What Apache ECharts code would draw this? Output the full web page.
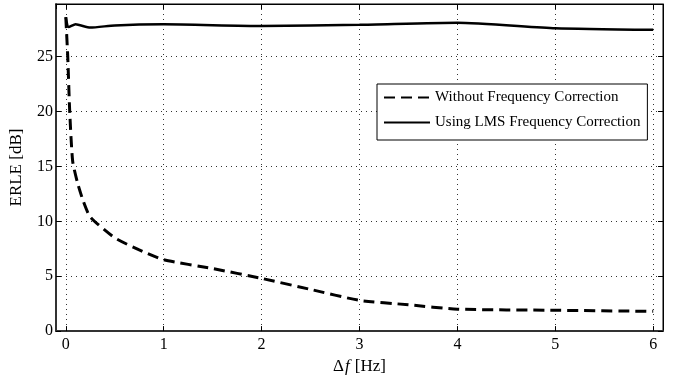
<!DOCTYPE html>
<html>
<head>
<meta charset="utf-8">
<script src="https://cdn.jsdelivr.net/npm/echarts@6/dist/echarts.min.js"></script>
<style>
  html, body { margin: 0; padding: 0; background: #fff; }
  #chart { width: 680px; height: 380px; }
</style>
</head>
<body>
<div id="chart"></div>
<script>
// frequency offset (Hz) and ERLE (dB)
const dfWithout = [0, 0.02, 0.04, 0.07, 0.12, 0.18, 0.25, 0.5, 0.75, 1, 1.5, 2, 2.5, 3, 3.5, 4, 5, 6]
const erleWithout = [28.6, 25, 20, 15.5, 13.5, 11.8, 10.4, 8.5, 7.4, 6.5, 5.7, 4.8, 3.8, 2.8, 2.4, 2.0, 1.9, 1.8]

const dfLms = [0, 0.03, 0.1, 0.25, 0.5, 1, 2, 3, 4, 5, 6]
const erleLms = [28.6, 27.7, 27.95, 27.65, 27.85, 27.95, 27.8, 27.9, 28.1, 27.6, 27.45]

const seriesNames = ['Without Frequency Correction', 'Using LMS Frequency Correction']

const FONT = 'Liberation Serif'

const chart = echarts.init(document.getElementById('chart'))

const pairs = (xs, ys) => xs.map((x, i) => [x, ys[i]])

const gridLine = {
  show: true,
  lineStyle: { color: '#333', width: 1, type: [1, 4] }
}

const option = {
  animation: false,
  backgroundColor: '#fff',
  textStyle: { fontFamily: FONT },
  grid: {
    left: 55,
    right: 17,
    top: 4,
    bottom: 47,
    show: true,
    borderColor: '#000',
    borderWidth: 1
  },
  legend: {
    data: seriesNames,
    orient: 'vertical',
    left: 377,
    top: 84,
    itemWidth: 46,
    itemHeight: 14,
    itemGap: 10,
    padding: [6, 7, 10, 6],
    borderColor: '#000',
    borderWidth: 1,
    backgroundColor: '#fff',
    itemStyle: { opacity: 0, borderWidth: 0 },
    textStyle: { fontFamily: FONT, fontSize: 15, color: '#000' }
  },
  xAxis: [
    {
      type: 'value',
      min: -0.1,
      max: 6.1,
      splitNumber: 6,
      name: '{n|Δ}{i|f} {n|[Hz]}',
      nameLocation: 'middle',
      nameGap: 26,
      nameTextStyle: {
        rich: {
          n: { fontFamily: FONT, fontSize: 17, color: '#000' },
          i: { fontFamily: FONT, fontSize: 17, fontStyle: 'italic', color: '#000', padding: [0, 2, 0, 1] }
        }
      },
      axisLine: { onZero: false, lineStyle: { color: '#333', width: 2 } },
      axisTick: { inside: true, length: 5, lineStyle: { color: '#000' } },
      axisLabel: {
        color: '#000',
        fontSize: 16,
        margin: 6,
        showMinLabel: false,
        showMaxLabel: false,
        formatter: v => (Math.abs(v - Math.round(v)) < 1e-6 ? String(Math.round(v)) : '')
      },
      splitLine: gridLine
    },
    {
      type: 'value',
      position: 'top',
      min: -0.1,
      max: 6.1,
      splitNumber: 6,
      axisLine: { onZero: false, lineStyle: { color: '#000', width: 1 } },
      axisTick: { inside: true, length: 5, lineStyle: { color: '#000' } },
      axisLabel: { show: false },
      splitLine: { show: false }
    }
  ],
  yAxis: [
    {
      type: 'value',
      min: 0,
      max: 29.8,
      interval: 5,
      name: 'ERLE [dB]',
      nameLocation: 'middle',
      nameGap: 31,
      nameTextStyle: { fontFamily: FONT, fontSize: 17, color: '#000' },
      axisLine: { show: true, onZero: false, lineStyle: { color: '#333', width: 2 } },
      axisTick: { show: true, inside: true, length: 5, lineStyle: { color: '#000' } },
      axisLabel: { color: '#000', fontSize: 16, margin: 3, showMaxLabel: false },
      splitLine: gridLine
    },
    {
      type: 'value',
      position: 'right',
      min: 0,
      max: 29.8,
      interval: 5,
      axisLine: { show: true, onZero: false, lineStyle: { color: '#000', width: 1 } },
      axisTick: { show: true, inside: true, length: 5, lineStyle: { color: '#000' } },
      axisLabel: { show: false },
      splitLine: { show: false }
    }
  ],
  series: [
    {
      name: seriesNames[0],
      type: 'line',
      data: pairs(dfWithout, erleWithout),
      symbol: 'none',
      smooth: 0.2,
      lineStyle: { color: '#000', width: 3, type: [11, 6] },
      itemStyle: { color: '#000' }
    },
    {
      name: seriesNames[1],
      type: 'line',
      data: pairs(dfLms, erleLms),
      symbol: 'none',
      smooth: 0.2,
      lineStyle: { color: '#000', width: 2.5, type: 'solid' },
      itemStyle: { color: '#000' }
    }
  ]
}

chart.setOption(option)
</script>
</body>
</html>
